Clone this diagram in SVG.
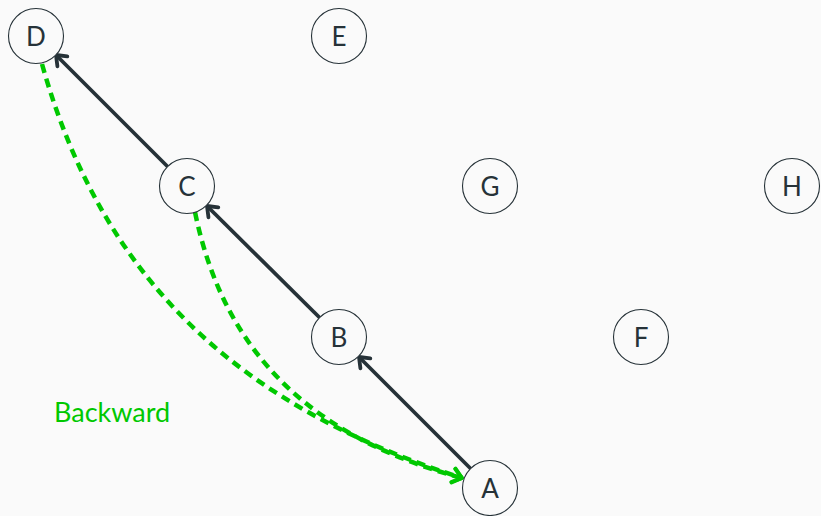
<svg xmlns="http://www.w3.org/2000/svg" width="821" height="516" viewBox="0 0 821 516">
  <defs>
    <style>
      .node circle { fill: #fafafa; stroke: #263238; stroke-width: 1.1; }
      .node text { font-family: Lato, "Open Sans", "DejaVu Sans", sans-serif; font-size: 26px; fill: #263238; text-anchor: middle; dominant-baseline: central; }
      .edge { fill: none; stroke: #263238; stroke-width: 3.8; }
      .back { fill: none; stroke: #00c800; stroke-width: 4.5; stroke-dasharray: 9 6; }
      .label { font-family: Lato, "Open Sans", "DejaVu Sans", sans-serif; font-size: 27px; fill: #00c800; }
    </style>
    <marker id="arrowDark" markerUnits="userSpaceOnUse" markerWidth="24" markerHeight="24" refX="0" refY="0" viewBox="-12 -12 24 24" orient="auto">
      <path d="M-9,-7 L0,0 L-9,7" fill="none" stroke="#263238" stroke-width="3.8" stroke-linecap="round" stroke-linejoin="round"/>
    </marker>
    <marker id="arrowGreen" markerUnits="userSpaceOnUse" markerWidth="24" markerHeight="24" refX="0" refY="0" viewBox="-12 -12 24 24" orient="auto">
      <path d="M-9,-7 L0,0 L-9,7" fill="none" stroke="#00c800" stroke-width="3.8" stroke-linecap="round" stroke-linejoin="round"/>
    </marker>
  </defs>

  <rect width="821" height="516" fill="#fafafa"/>

  <g id="connectors">
    <line class="edge" x1="471" y1="469" x2="359" y2="357" marker-end="url(#arrowDark)"/>
    <line class="edge" x1="320" y1="318" x2="207" y2="206" marker-end="url(#arrowDark)"/>
    <line class="edge" x1="168" y1="167" x2="56" y2="55" marker-end="url(#arrowDark)"/>
    <path class="back" d="M42,64 C105,290 250,410 462,478" marker-end="url(#arrowGreen)"/>
    <path class="back" d="M195,212 C225,360 320,440 462,478" marker-end="url(#arrowGreen)"/>
  </g>

  <g id="node-D" class="node"><circle cx="36" cy="36" r="27.5"/><text x="36" y="36">D</text></g>
  <g id="node-E" class="node"><circle cx="339" cy="36" r="27.5"/><text x="339" y="36">E</text></g>
  <g id="node-C" class="node"><circle cx="187" cy="186" r="27.5"/><text x="187" y="186">C</text></g>
  <g id="node-G" class="node"><circle cx="490" cy="186" r="27.5"/><text x="490" y="186">G</text></g>
  <g id="node-H" class="node"><circle cx="792" cy="186" r="27.5"/><text x="792" y="186">H</text></g>
  <g id="node-B" class="node"><circle cx="339" cy="337" r="27.5"/><text x="339" y="337">B</text></g>
  <g id="node-F" class="node"><circle cx="641" cy="337" r="27.5"/><text x="641" y="337">F</text></g>
  <g id="node-A" class="node"><circle cx="490" cy="488" r="27.5"/><text x="490" y="488">A</text></g>

  <text class="label" x="54" y="422">Backward</text>
</svg>
